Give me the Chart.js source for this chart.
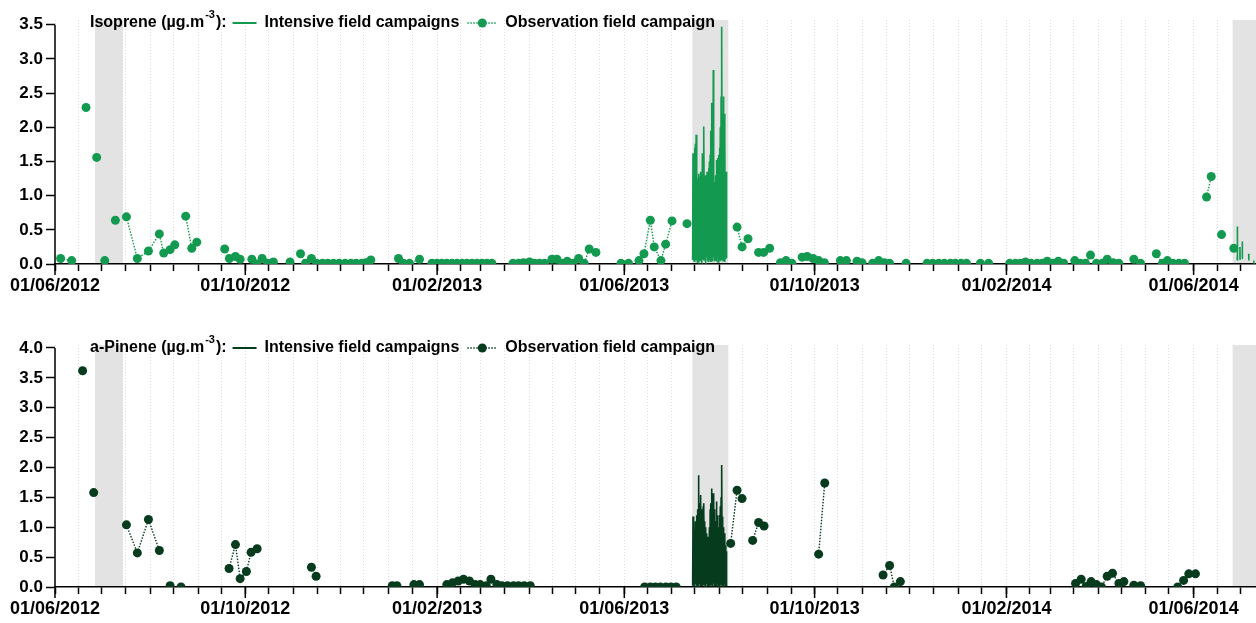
<!DOCTYPE html>
<html>
<head>
<meta charset="utf-8">
<script src="https://cdn.jsdelivr.net/npm/chart.js@4/dist/chart.umd.min.js"></script>
<style>
  html, body { margin: 0; padding: 0; background: #fff; }
  canvas { display: block; }
</style>
</head>
<body>
<canvas id="isoChart" width="1256" height="305"></canvas>
<canvas id="pinChart" width="1256" height="318"></canvas>
<script>
// x values are days since 01/06/2012
const xLabels = ["01/06/2012", "01/10/2012", "01/02/2013", "01/06/2013", "01/10/2013", "01/02/2014", "01/06/2014"];
const yTicksIso = [0, 0.5, 1, 1.5, 2, 2.5, 3, 3.5];
const yTicksPin = [0, 0.5, 1, 1.5, 2, 2.5, 3, 3.5, 4];

// grey shading = intensive field campaigns (start day, end day)
const campaignBands = [[25.7, 43.6], [408.6, 431.7], [755.0, 800]];

// Isoprene, observation campaign (null = gap in sampling)
const isoObsDay = [3.6, 10.7, null, 19.9, null, 26.7, null, 31.9, null, 38.7, null,
  45.8, 52.8, 59.9, 66.9, 69.7, 73.8, 76.8, null, 83.8, 87.7, 90.9, null,
  108.8, 111.8, 115.7, 118.7, null, 126.2, 129.4, 132.8, 136.4, 140.0, null, 150.7, null,
  157.4, 160.6, 164.4, 167.8, 171.5, 174.9, 178.5, 182.2, 186.0, 189.7, 193.1, 196.7, 199.3, 202.5, null,
  220.2, 223.4, 227.3, 233.7, null,
  241.6, 244.8, 248.0, 251.2, 254.5, 257.7, 260.9, 264.1, 267.3, 270.5, 273.7, 276.9, 280.1, null,
  293.6, 297.2, 300.4, 304.2, 307.4, 310.6, 313.9, null, 318.6, 321.8, null,
  325.2, 328.4, 332.1, 335.7, 339.3, 342.5, 346.8, null, 362.9, 367.7, null,
  374.4, 377.6, 381.7, 384.2, 388.5, 391.5, 395.6, null, 405.2, null,
  437.3, 440.5, 444.3, null, 451.1, 454.3, 458.2, null, 465.1, 468.7, 472.5, null,
  479.0, 482.2, 486.0, 489.6, 493.3, null, 503.5, 507.4, null, 514.2, 517.4, null,
  524.2, 528.1, 531.7, 535.1, null, 545.7, null,
  559.1, 562.7, 566.6, 570.2, 574.1, 577.3, 580.9, 584.4, null, 593.3, 598.6, null,
  612.1, 615.8, 619.0, 622.2, 625.8, 629.7, 632.9, 636.1, 639.7, 643.2, 646.8, null,
  653.8, 657.5, 660.7, 663.9, 667.7, 671.4, 674.6, 678.5, 682.1, null, 691.7, 696.0, null,
  706.1, 710.0, 713.2, 716.8, 720.6, 724.2, null, 738.3, 741.3, null, 747.9, null, 755.8];
const isoObsVal = [0.08, 0.05, null, 2.29, null, 1.56, null, 0.05, null, 0.64, null,
  0.69, 0.08, 0.19, 0.44, 0.16, 0.21, 0.28, null, 0.70, 0.23, 0.32, null,
  0.22, 0.08, 0.11, 0.07, null, 0.07, 0.00, 0.08, 0.01, 0.03, null, 0.03, null,
  0.15, 0.01, 0.08, 0.01, 0.01, 0.01, 0.01, 0.01, 0.01, 0.01, 0.01, 0.01, 0.02, 0.06, null,
  0.08, 0.01, 0.01, 0.07, null,
  0.01, 0.01, 0.01, 0.01, 0.01, 0.01, 0.01, 0.01, 0.01, 0.01, 0.01, 0.01, 0.01, null,
  0.01, 0.01, 0.02, 0.03, 0.01, 0.01, 0.01, null, 0.07, 0.07, null,
  0.01, 0.04, 0.01, 0.08, 0.01, 0.22, 0.17, null, 0.01, 0.01, null,
  0.05, 0.15, 0.64, 0.25, 0.05, 0.29, 0.63, null, 0.59, null,
  0.54, 0.25, 0.37, null, 0.17, 0.17, 0.23, null, 0.02, 0.05, 0.01, null,
  0.10, 0.11, 0.08, 0.05, 0.02, null, 0.05, 0.05, null, 0.04, 0.02, null,
  0.01, 0.05, 0.02, 0.01, null, 0.01, null,
  0.01, 0.01, 0.01, 0.01, 0.01, 0.01, 0.01, 0.01, null, 0.01, 0.01, null,
  0.01, 0.01, 0.01, 0.03, 0.01, 0.01, 0.01, 0.04, 0.01, 0.04, 0.01, null,
  0.05, 0.01, 0.01, 0.13, 0.01, 0.01, 0.07, 0.02, 0.01, null, 0.07, 0.01, null,
  0.15, 0.01, 0.05, 0.01, 0.01, 0.01, null, 0.98, 1.28, null, 0.43, null, 0.23];

// Isoprene, intensive campaign summer 2013, one value every 6 h
const intensiveStartDay = 408.8;
const intensiveStepDays = 0.25;
const isoIntVal = [
  0.06, 1.62, 0.10, 1.55,  0.04, 1.70, 0.12, 1.76,  0.05, 1.89, 0.08, 1.30,  0.03, 1.25, 0.10, 1.32,
  0.06, 1.28, 0.04, 1.20,  0.09, 1.35, 0.05, 1.28,  0.03, 1.62, 0.07, 1.45,  0.05, 2.01, 0.69, 1.30,
  0.06, 1.25, 0.03, 1.30,  0.10, 1.35, 0.05, 1.22,  0.04, 1.40, 0.08, 1.50,  0.06, 1.60, 0.03, 1.95,
  0.09, 2.36, 0.05, 2.10,  0.06, 2.84, 0.10, 1.20,  0.04, 0.90, 0.55, 1.30,  0.06, 1.52, 0.05, 1.45,
  0.10, 1.55, 0.03, 1.60,  0.06, 1.70, 0.08, 2.00,  0.04, 2.45, 0.06, 3.47,  0.10, 2.20, 0.05, 2.45,
  0.06, 2.20, 0.03, 1.80,  0.08, 1.08, 0.10, 1.35];
// Isoprene, start of the summer 2014 intensive campaign
const isoInt2Day = [757.9, 758.0, 758.1, 758.2, null, 759.6, 759.7, 759.8, null, 761.1, 761.2, 761.3, null, 765.3, 765.4, null, 768.5, 768.6];
const isoInt2Val = [0.10, 0.55, 0.05, 0.30, null, 0.08, 0.25, 0.06, null, 0.08, 0.33, 0.10, null, 0.15, 0.05, null, 0.05, 0.04];

// a-Pinene, observation campaign
const pinObsDay = [17.7, null, 24.8, null, 45.8, 52.8, 59.9, 66.9, null, 73.8, null, 80.8, null,
  111.6, 115.7, 118.7, 122.7, 125.7, 129.6, null, 164.4, 167.4, null,
  216.2, 219.2, null, 230.1, 233.7, null,
  251.2, 254.8, 258.5, 261.9, 265.7, 269.4, 272.6, 276.5, 279.5, 283.3, 286.5, 290.1, 294.0, 297.2, 300.8, 304.7, null,
  378.0, 381.7, 384.9, 388.1, 391.7, 394.9, 398.3, null,
  433.2, 437.3, 440.5, null, 447.3, 451.1, 454.6, null, 489.6, 493.5, null,
  530.9, 535.1, 538.1, 542.0, null,
  654.3, 657.9, 661.1, 664.3, 667.7, 670.9, 674.6, 678.0, 682.1, 685.3, null, 691.7, 696.0, null,
  719.8, 723.6, 726.9, 731.2];
const pinObsVal = [3.62, null, 1.58, null, 1.04, 0.57, 1.13, 0.61, null, 0.02, null, 0.00, null,
  0.31, 0.71, 0.14, 0.26, 0.58, 0.64, null, 0.33, 0.18, null,
  0.02, 0.02, null, 0.04, 0.04, null,
  0.04, 0.07, 0.10, 0.13, 0.10, 0.04, 0.04, 0.02, 0.13, 0.04, 0.02, 0.02, 0.02, 0.02, 0.02, 0.02, null,
  0.00, 0.00, 0.00, 0.00, 0.00, 0.00, 0.00, null,
  0.73, 1.62, 1.48, null, 0.78, 1.08, 1.02, null, 0.55, 1.74, null,
  0.20, 0.36, 0.00, 0.09, null,
  0.06, 0.13, 0.01, 0.09, 0.04, 0.00, 0.18, 0.23, 0.06, 0.09, null, 0.03, 0.02, null,
  0.00, 0.11, 0.22, 0.22];

// a-Pinene, intensive campaign summer 2013, one value every 6 h
const pinIntVal = [
  0.02, 1.18, 0.06, 1.00,  0.03, 0.95, 0.01, 1.10,  0.05, 1.05, 0.02, 1.20,  0.01, 1.30, 0.06, 1.87,
  0.03, 1.40, 0.05, 1.25,  0.01, 1.54, 0.03, 1.30,  0.05, 1.20, 0.02, 1.35,  0.03, 1.40, 0.06, 1.10,
  0.01, 1.00, 0.03, 0.90,  0.05, 0.84, 0.02, 0.80,  0.03, 0.84, 0.06, 1.00,  0.01, 1.30, 0.03, 1.40,
  0.05, 1.65, 0.02, 1.50,  0.03, 1.57, 0.06, 1.30,  0.01, 1.05, 0.05, 1.10,  0.03, 1.43, 0.02, 1.20,
  0.05, 1.10, 0.03, 1.00,  0.01, 1.20, 0.06, 1.35,  0.03, 1.50, 0.02, 2.04,  0.05, 1.18, 0.03, 1.00,
  0.01, 0.90, 0.05, 0.79,  0.03, 0.70, 0.02, 0.60];

const FONT = "'Liberation Sans', Arial, Helvetica, sans-serif";
const ISO_GREEN = "#139a50";
const PIN_GREEN = "#063b1e";
const X_MAX = 770;
const START = Date.UTC(2012, 5, 1);
const DAY_MS = 86400000;

function dayOf(y, m, d) {
  return (Date.UTC(y, m - 1, d) - START) / DAY_MS;
}

// ticks on the 1st and 16th of every month
const tickDays = [];
for (let k = 0; k < 26; k++) {
  const y = 2012 + Math.floor((5 + k) / 12);
  const m = ((5 + k) % 12) + 1;
  [1, 16].forEach(d => {
    const v = dayOf(y, m, d);
    if (v <= X_MAX) tickDays.push(v);
  });
}
const labelDays = xLabels.map(s => {
  const [d, m, y] = s.split("/").map(Number);
  return dayOf(y, m, d);
});
function labelFor(v) {
  const i = labelDays.findIndex(d => Math.abs(d - v) < 0.01);
  return i >= 0 ? xLabels[i] : "";
}

function toPoints(days, vals) {
  return days.map((d, i) => ({ x: d === null ? days[i - 1] : d, y: vals[i] }));
}
function intensivePoints(vals) {
  return vals.map((v, i) => ({ x: intensiveStartDay + i * intensiveStepDays, y: v }));
}

const decorPlugin = {
  id: "decor",
  beforeDatasetsDraw(chart) {
    const { ctx, chartArea: a, scales: { x, y } } = chart;
    ctx.save();
    ctx.fillStyle = "#e3e3e3";
    campaignBands.forEach(([s, e]) => {
      const x1 = Math.max(a.left, x.getPixelForValue(s));
      const x2 = Math.min(a.right, x.getPixelForValue(e));
      ctx.fillRect(x1, a.top, x2 - x1, a.bottom - a.top - 1);
    });
    // y axis line only up to the last tick
    const yTicks = chart.options.plugins.decor.yTicks;
    ctx.strokeStyle = "#000";
    ctx.lineWidth = 1.5;
    ctx.beginPath();
    ctx.moveTo(a.left, y.getPixelForValue(0));
    ctx.lineTo(a.left, y.getPixelForValue(yTicks[yTicks.length - 1]));
    ctx.stroke();
    // longer tick marks at labelled dates
    labelDays.forEach(d => {
      const px = x.getPixelForValue(d);
      ctx.beginPath();
      ctx.moveTo(px, a.bottom);
      ctx.lineTo(px, a.bottom + 11);
      ctx.stroke();
    });
    ctx.restore();
  },
  afterDraw(chart) {
    const o = chart.options.plugins.decor;
    const ctx = chart.ctx;
    const cy = chart.chartArea.top + 3;
    ctx.save();
    ctx.fillStyle = "#000";
    ctx.textBaseline = "middle";
    const big = "bold 16px " + FONT;
    ctx.font = big;
    let x = 90;
    const head = o.species + " (\u00b5g.m";
    ctx.fillText(head, x, cy);
    x += ctx.measureText(head).width + 1;
    ctx.font = "bold 11px " + FONT;
    ctx.fillText("-3", x, cy - 8);
    x += ctx.measureText("-3").width + 1;
    ctx.font = big;
    ctx.fillText("):", x, cy);
    x += ctx.measureText("):").width + 6;
    ctx.strokeStyle = o.color;
    ctx.lineWidth = 2;
    ctx.beginPath();
    ctx.moveTo(x, cy);
    ctx.lineTo(x + 24, cy);
    ctx.stroke();
    x += 32;
    ctx.fillText("Intensive field campaigns", x, cy);
    x += ctx.measureText("Intensive field campaigns").width + 8;
    ctx.lineWidth = 1.5;
    ctx.setLineDash([1.5, 1.5]);
    ctx.beginPath();
    ctx.moveTo(x, cy);
    ctx.lineTo(x + 30, cy);
    ctx.stroke();
    ctx.setLineDash([]);
    ctx.fillStyle = o.color;
    ctx.beginPath();
    ctx.arc(x + 15, cy, 4.5, 0, Math.PI * 2);
    ctx.fill();
    x += 38;
    ctx.fillStyle = "#000";
    ctx.fillText("Observation field campaign", x, cy);
    ctx.restore();
  }
};

function makeChart(id, cfg) {
  return new Chart(document.getElementById(id), {
    type: "line",
    data: {
      datasets: [
        {
          label: "Intensive field campaigns",
          data: cfg.intensive,
          borderColor: cfg.color,
          borderWidth: 1.6,
          pointRadius: 0,
          tension: 0
        },
        {
          label: "Observation field campaign",
          data: cfg.obs,
          borderColor: cfg.color,
          borderWidth: 1.4,
          borderDash: [1.5, 1.5],
          pointRadius: 4.5,
          pointHoverRadius: 4.5,
          pointBorderWidth: 0,
          pointBackgroundColor: cfg.color,
          tension: 0
        }
      ]
    },
    options: {
      responsive: false,
      animation: false,
      events: [],
      layout: { autoPadding: false, padding: { top: cfg.padTop, left: 0, right: 0, bottom: 0 } },
      plugins: {
        legend: { display: false },
        tooltip: { enabled: false },
        decor: { species: cfg.species, color: cfg.color, yTicks: cfg.yTicks }
      },
      scales: {
        x: {
          type: "linear",
          min: 0,
          max: X_MAX,
          afterBuildTicks: s => { s.ticks = tickDays.map(v => ({ value: v })); },
          afterFit: s => {
            s.height = cfg.xHeight;
            s.paddingLeft = 0;
            s.paddingRight = 0;
          },
          ticks: {
            autoSkip: false,
            maxRotation: 0,
            padding: 4,
            color: "#000",
            font: { family: FONT, size: 18, weight: "bold" },
            callback: v => labelFor(v)
          },
          grid: { color: "#dcdcdc", lineWidth: 1, tickLength: 7, tickColor: "#000", tickWidth: 1.5 },
          border: { display: true, color: "#000", width: 1.5, dash: [1, 2] }
        },
        y: {
          min: 0,
          max: cfg.yMax,
          afterBuildTicks: s => { s.ticks = cfg.yTicks.map(v => ({ value: v })); },
          afterFit: s => { s.width = 55; },
          ticks: {
            padding: 3,
            color: "#000",
            font: { family: FONT, size: 17, weight: "bold" },
            callback: v => Number(v).toFixed(1)
          },
          grid: { drawOnChartArea: false, tickLength: 9, tickColor: "#000", tickWidth: 1.5 },
          border: { display: false }
        }
      }
    },
    plugins: [decorPlugin]
  });
}

makeChart("isoChart", {
  species: "Isoprene",
  color: ISO_GREEN,
  yMax: 3.57,
  yTicks: yTicksIso,
  padTop: 20,
  xHeight: 41,
  intensive: intensivePoints(isoIntVal)
    .concat([{ x: 432, y: null }])
    .concat(toPoints(isoInt2Day, isoInt2Val)),
  obs: toPoints(isoObsDay, isoObsVal)
});

makeChart("pinChart", {
  species: "a-Pinene",
  color: PIN_GREEN,
  yMax: 4.05,
  yTicks: yTicksPin,
  padTop: 40,
  xHeight: 36,
  intensive: intensivePoints(pinIntVal),
  obs: toPoints(pinObsDay, pinObsVal)
});
</script>
</body>
</html>
